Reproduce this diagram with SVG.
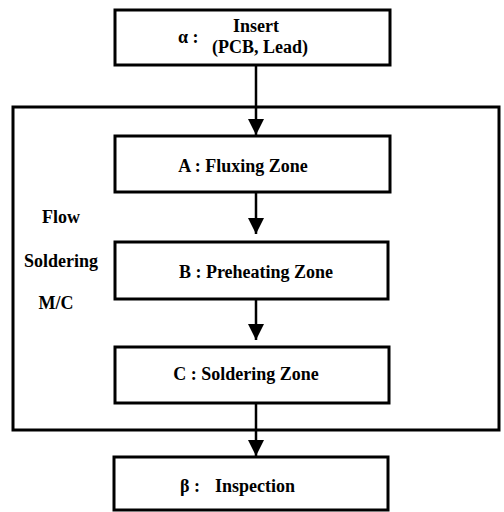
<svg xmlns="http://www.w3.org/2000/svg" width="504" height="512" viewBox="0 0 504 512">
<style>
.box{fill:#fff;stroke:#000;stroke-width:3}
.frame{fill:none;stroke:#000;stroke-width:3}
.t{font-family:'Liberation Serif','Times New Roman','DejaVu Serif',serif;font-weight:bold;font-size:18px;fill:#000}
.m{text-anchor:middle}
.line{stroke:#000;stroke-width:2.5;fill:none}
</style>
<defs>
<marker id="ah" markerUnits="userSpaceOnUse" markerWidth="20" markerHeight="16" refX="16" refY="8" orient="auto">
<path d="M0,0 L16,8 L0,16 Z" fill="#000"/>
</marker>
</defs>
<rect width="504" height="512" fill="#fff"/>
<g id="frame">
<rect class="frame" x="13" y="107" width="486" height="323"/>
<text class="t m" x="61" y="223" font-family="Liberation Serif, serif">Flow</text>
<text class="t m" x="61" y="267" font-family="Liberation Serif, serif">Soldering</text>
<text class="t m" x="56" y="309" font-family="Liberation Serif, serif">M/C</text>
</g>
<g id="connectors">
<line class="line" x1="256" y1="65" x2="256" y2="135" marker-end="url(#ah)"/>
<line class="line" x1="256" y1="192" x2="256" y2="234" marker-end="url(#ah)"/>
<line class="line" x1="256" y1="299" x2="256" y2="340" marker-end="url(#ah)"/>
<line class="line" x1="256" y1="403" x2="256" y2="456" marker-end="url(#ah)"/>
</g>
<g id="alpha">
<rect class="box" x="115" y="10" width="275" height="55"/>
<text class="t" x="178" y="43">α :</text>
<text class="t m" x="256" y="32">Insert</text>
<text class="t m" x="260" y="53">(PCB, Lead)</text>
</g>
<g id="A">
<rect class="box" x="115" y="136" width="275" height="56"/>
<text class="t m" x="243" y="172">A : Fluxing Zone</text>
</g>
<g id="B">
<rect class="box" x="115" y="242" width="273" height="57"/>
<text class="t m" x="256" y="278">B : Preheating Zone</text>
</g>
<g id="C">
<rect class="box" x="115" y="347" width="274" height="56"/>
<text class="t m" x="246" y="380">C : Soldering Zone</text>
</g>
<g id="beta">
<rect class="box" x="114" y="457" width="274" height="53"/>
<text class="t" x="180" y="492">β :</text>
<text class="t" x="215" y="492">Inspection</text>
</g>
</svg>
